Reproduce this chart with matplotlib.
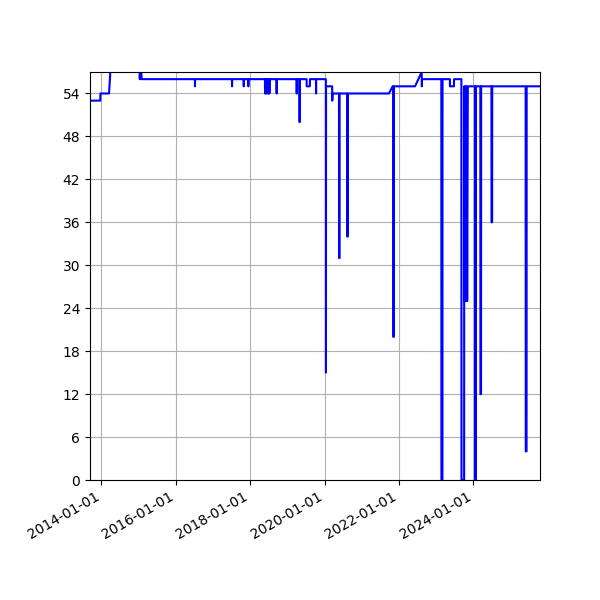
import numpy as np
import pandas as pd
import matplotlib
matplotlib.use("Agg")
import matplotlib.pyplot as plt
import matplotlib.dates as mdates

# pontos (data, valor)
datas = [
    "2013-09-11", "2013-12-21", "2013-12-22", "2014-03-17", "2014-04-03",
    "2015-01-11", "2015-01-13", "2015-01-17", "2015-01-21", "2015-01-26", "2015-01-31", "2015-02-07",
    "2016-07-07", "2016-07-08", "2016-07-09",
    "2017-07-06", "2017-07-07", "2017-07-08",
    "2017-10-29", "2017-10-30", "2017-10-31",
    "2017-12-13", "2017-12-14", "2017-12-15",
    "2018-05-26", "2018-05-27", "2018-05-31", "2018-06-05", "2018-06-11", "2018-06-16", "2018-06-22",
    "2018-06-28", "2018-07-03", "2018-07-09", "2018-07-15",
    "2018-09-17", "2018-09-18", "2018-09-19",
    "2019-04-02", "2019-04-03", "2019-04-04",
    "2019-04-29", "2019-04-30", "2019-05-03", "2019-05-04",
    "2019-07-09", "2019-07-10", "2019-08-10", "2019-08-11",
    "2019-10-09", "2019-10-10", "2019-10-11",
    "2020-01-14", "2020-01-15", "2020-01-16",
    "2020-03-16", "2020-03-17", "2020-03-20",
    "2020-05-22", "2020-05-23", "2020-05-27", "2020-05-28",
    "2020-08-11", "2020-08-12", "2020-08-16", "2020-08-17",
    "2021-09-25", "2021-10-31",
    "2021-11-05", "2021-11-06", "2021-11-12", "2021-11-13",
    "2022-06-08", "2022-08-12", "2022-08-14", "2022-08-15",
    "2023-02-21", "2023-02-22", "2023-03-04", "2023-03-05",
    "2023-05-16", "2023-05-17", "2023-06-25", "2023-06-26",
    "2023-09-06", "2023-09-07", "2023-10-03", "2023-10-04",
    "2023-10-09", "2023-10-15", "2023-10-21", "2023-10-27", "2023-11-02", "2023-11-08", "2023-11-12",
    "2024-01-21", "2024-01-22", "2024-01-24", "2024-01-25",
    "2024-03-10", "2024-03-11", "2024-03-17", "2024-03-18",
    "2024-06-27", "2024-06-28", "2024-07-04", "2024-07-05",
    "2025-05-29", "2025-05-30", "2025-06-07", "2025-06-08",
    "2025-10-17",
]
valores = [
    53, 53, 54, 54, 58,
    58, 56, 58, 56, 58, 56, 56,
    56, 55, 56,
    56, 55, 56,
    56, 55, 56,
    56, 55, 56,
    56, 54, 56, 54, 56, 54, 56,
    54, 56, 54, 56,
    56, 54, 56,
    56, 54, 56,
    56, 50, 50, 56,
    56, 55, 55, 56,
    56, 54, 56,
    56, 15, 55,
    55, 53, 54,
    54, 31, 31, 54,
    54, 34, 34, 54,
    54, 55,
    55, 20, 20, 55,
    55, 57, 55, 56,
    56, 0, 0, 56,
    56, 55, 55, 56,
    56, 0, 0, 55,
    25, 55, 25, 55, 25, 55, 55,
    55, 0, 0, 55,
    55, 12, 12, 55,
    55, 36, 36, 55,
    55, 4, 4, 55,
    55,
]

x = pd.to_datetime(datas)

fig = plt.figure(figsize=(6, 6), dpi=100)
ax = fig.add_axes([0.15, 0.2, 0.75, 0.68])
ax.plot(x, valores, color='blue', linewidth=1.5)

ax.set_xlim(x[0], x[-1])
ax.set_ylim(0, 57)
ax.set_yticks(np.arange(0, 57, 6))
ax.xaxis.set_major_locator(mdates.YearLocator(2))
ax.xaxis.set_major_formatter(mdates.DateFormatter('%Y-%m-%d'))
ax.grid(True)
for lbl in ax.get_xticklabels():
    lbl.set_rotation(30)
    lbl.set_ha('right')

fig.savefig('out.png')
